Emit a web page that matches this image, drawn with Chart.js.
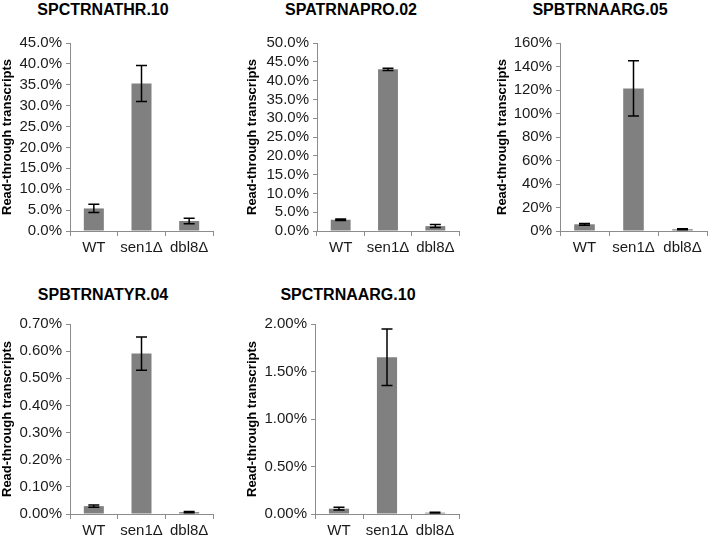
<!DOCTYPE html>
<html>
<head>
<meta charset="utf-8">
<script src="https://cdn.jsdelivr.net/npm/chart.js@4.4.1/dist/chart.umd.min.js"></script>
<style>
    body { margin: 0; background: #fff; width: 709px; height: 540px; position: relative; overflow: hidden; }
    canvas { position: absolute; }
    .panel-title {
        position: absolute; width: 200px; text-align: center;
        font: bold 16px "Liberation Sans", Arial, sans-serif; line-height: 20px; color: #000;
    }
</style>
</head>
<body>
<script>
// data (values in %)
const categories = ['WT', 'sen1Δ', 'dbl8Δ'];
const titles = ['SPCTRNATHR.10', 'SPATRNAPRO.02', 'SPBTRNAARG.05', 'SPBTRNATYR.04', 'SPCTRNAARG.10'];

const thr10Values = [5.4, 35.3, 2.4];
const thr10Errors = [1.0, 4.3, 0.65];
const pro02Values = [3.0, 43.0, 1.3];
const pro02Errors = [0.2, 0.3, 0.4];
const arg05Values = [5.7, 121.3, 1.5];
const arg05Errors = [0.7, 23.5, 0.5];
const tyr04Values = [0.029, 0.591, 0.007];
const tyr04Errors = [0.004, 0.061, 0.002];
const arg10Values = [0.056, 1.65, 0.014];
const arg10Errors = [0.015, 0.297, 0.004];

// y axis tick labels: max, step, decimals
const yMax = [45, 50, 160, 0.7, 2.0];
const yStep = [5, 5, 20, 0.1, 0.5];
const yDecimals = [1, 1, 0, 2, 2];

const allValues = [thr10Values, pro02Values, arg05Values, tyr04Values, arg10Values];
const allErrors = [thr10Errors, pro02Errors, arg05Errors, tyr04Errors, arg10Errors];

// placement of each panel on the page
const panels = [
    { left: 0,   top: 0,   width: 240, height: 261, yWidth: 70, padTop: 43, padRight: 27, titleX: 103, titleY: 10 },
    { left: 245, top: 0,   width: 240, height: 261, yWidth: 72, padTop: 43, padRight: 26, titleX: 351, titleY: 10 },
    { left: 495, top: 0,   width: 214, height: 261, yWidth: 65, padTop: 43, padRight: 2,  titleX: 600, titleY: 10 },
    { left: 0,   top: 270, width: 240, height: 274, yWidth: 70, padTop: 54, padRight: 27, titleX: 103, titleY: 295 },
    { left: 245, top: 270, width: 240, height: 274, yWidth: 70, padTop: 54, padRight: 26, titleX: 348, titleY: 295 }
];

const FONT = '"Liberation Sans", Arial, sans-serif';
const AXIS_COLOR = '#8c8c8c';

// error bars drawn through the y scale
const errorBarPlugin = {
    id: 'errorBars',
    afterDatasetsDraw(chart) {
        const errs = chart.options.plugins.errorBars.errors;
        const meta = chart.getDatasetMeta(0);
        const yScale = chart.scales.y;
        const values = chart.data.datasets[0].data;
        const ctx = chart.ctx;
        ctx.save();
        ctx.strokeStyle = '#000';
        ctx.lineWidth = 1.5;
        meta.data.forEach((bar, i) => {
            const yHi = yScale.getPixelForValue(values[i] + errs[i]);
            const yLo = yScale.getPixelForValue(Math.max(0, values[i] - errs[i]));
            const x = bar.x;
            const cap = 5.5;
            ctx.beginPath();
            ctx.moveTo(x, yHi); ctx.lineTo(x, yLo);
            ctx.moveTo(x - cap, yHi); ctx.lineTo(x + cap, yHi);
            ctx.moveTo(x - cap, yLo); ctx.lineTo(x + cap, yLo);
            ctx.stroke();
        });
        ctx.restore();
    }
};

function makePanel(idx) {
    const p = panels[idx];

    const title = document.createElement('div');
    title.className = 'panel-title';
    title.textContent = titles[idx];
    title.style.left = (p.titleX - 100) + 'px';
    title.style.top = (p.titleY - 10) + 'px';
    document.body.appendChild(title);

    const canvas = document.createElement('canvas');
    canvas.width = p.width;
    canvas.height = p.height;
    canvas.style.left = p.left + 'px';
    canvas.style.top = p.top + 'px';
    document.body.appendChild(canvas);

    new Chart(canvas.getContext('2d'), {
        type: 'bar',
        data: {
            labels: categories,
            datasets: [{
                data: allValues[idx],
                backgroundColor: '#808080',
                borderWidth: 0,
                categoryPercentage: 1.0,
                barPercentage: 0.42
            }]
        },
        options: {
            responsive: false,
            animation: false,
            devicePixelRatio: 1,
            layout: { padding: { left: 0, top: p.padTop, right: p.padRight, bottom: 0 } },
            plugins: {
                legend: { display: false },
                tooltip: { enabled: false },
                errorBars: { errors: allErrors[idx] }
            },
            scales: {
                x: {
                    grid: { drawOnChartArea: false, drawTicks: true, tickLength: 5, color: AXIS_COLOR },
                    border: { color: AXIS_COLOR, width: 1 },
                    ticks: {
                        font: { family: FONT, size: 15 },
                        color: '#1a1a1a',
                        padding: 3,
                        autoSkip: false,
                        maxRotation: 0,
                        minRotation: 0
                    },
                    afterFit: s => { s.height = 30; }
                },
                y: {
                    min: 0,
                    max: yMax[idx],
                    grid: { drawOnChartArea: false, drawTicks: true, tickLength: 4, color: AXIS_COLOR },
                    border: { color: AXIS_COLOR, width: 1 },
                    ticks: {
                        stepSize: yStep[idx],
                        autoSkip: false,
                        font: { family: FONT, size: 15 },
                        color: '#1a1a1a',
                        padding: 4,
                        callback: v => v.toFixed(yDecimals[idx]) + '%'
                    },
                    title: {
                        display: true,
                        text: 'Read-through transcripts',
                        font: { family: FONT, size: 13, weight: 'bold' },
                        color: '#000',
                        padding: 0
                    },
                    afterFit: s => { s.width = p.yWidth; }
                }
            }
        },
        plugins: [errorBarPlugin]
    });
}

for (let i = 0; i < panels.length; i++) {
    makePanel(i);
}
</script>
</body>
</html>
